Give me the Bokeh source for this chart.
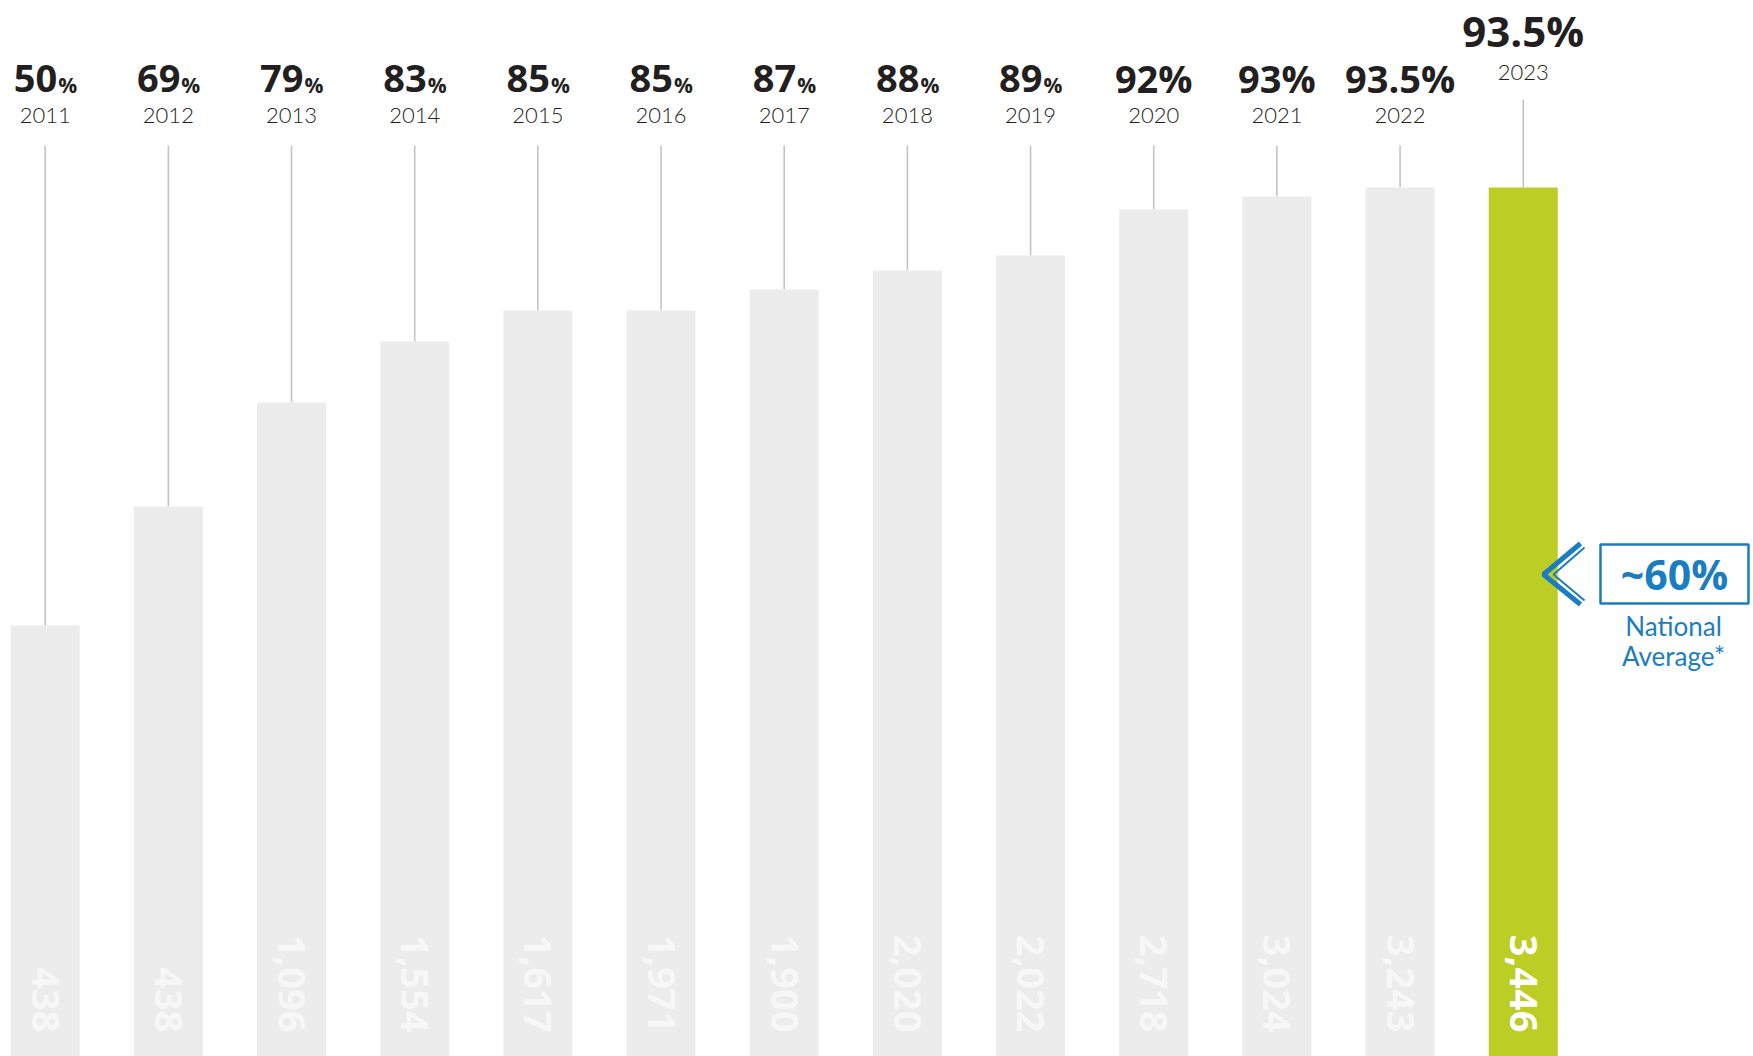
import math
from bokeh.plotting import figure
from bokeh.models import ColumnDataSource, Range1d
from bokeh.embed import file_html
from bokeh.resources import INLINE
from bokeh.core.properties import value

# ---------------- data ----------------
years = [2011, 2012, 2013, 2014, 2015, 2016, 2017, 2018, 2019, 2020, 2021, 2022, 2023]
pct_values = [50, 69, 79, 83, 85, 85, 87, 88, 89, 92, 93, 93.5, 93.5]
counts = [438, 438, 1096, 1554, 1617, 1971, 1900, 2020, 2022, 2718, 3024, 3243, 3446]
# visual bar heights as drawn in the picture (px above the bottom edge)
bar_heights = [431, 550, 654, 715, 746, 746, 767, 786, 801, 847, 860, 869, 869]
small_pct_years = [2011, 2012, 2013, 2014, 2015, 2016, 2017, 2018, 2019]
highlight_year = 2023
national_avg_label = "~60%"
national_avg_text = ["National", "Average*"]

# ---------------- styles ----------------
W, H = 1753, 1056
PX_PER_YEAR = 123.17
FIRST_CENTER_PX = 44.7
GREY = "#ececec"
GREEN = "#bccd26"
BLUE = "#1b7dc1"
DARK = "#231f20"
LINE = "#c4c4c4"
BASE_SHIFT = 0.37  # svg text sits this many em below its anchor

x_start = years[0] - FIRST_CENTER_PX / PX_PER_YEAR
x_end = x_start + W / PX_PER_YEAR


def sx(px):  # page pixel -> data x
    return x_start + px / PX_PER_YEAR


def sy(px):  # page pixel -> data y
    return H - px


def by(px, size):  # desired baseline pixel -> data y
    return sy(px - BASE_SHIFT * size)


p = figure(width=W, height=H, x_range=Range1d(x_start, x_end), y_range=Range1d(0, H),
           output_backend="svg", toolbar_location=None, min_border=0)
p.axis.visible = False
p.grid.visible = False
p.outline_line_color = None
p.background_fill_color = "white"
p.border_fill_color = "white"

colors = [GREEN if y == highlight_year else GREY for y in years]
line_tops = [sy(99) if y == highlight_year else sy(145) for y in years]

src = ColumnDataSource(dict(x=years, top=bar_heights, color=colors, lt=line_tops,
                            cnt=[f"{c:,}" for c in counts],
                            calpha=[1.0 if y == highlight_year else 0.6 for y in years]))

p.segment(x0="x", y0="lt", x1="x", y1="top", source=src, line_color=LINE, line_width=1.6)
p.vbar(x="x", top="top", bottom=0, width=69 / PX_PER_YEAR, fill_color="color",
       line_color=None, source=src)

# count labels inside bars (rotated)
p.text(x="x", y=sy(1032), text="cnt", source=src, angle=-math.pi / 2,
       text_align="right", text_baseline="middle", text_color="white", text_alpha="calpha",
       text_font=value("Open Sans"), text_font_style="bold", text_font_size="38px")


def fmt(v):
    return f"{v:g}"


sm = [(y, v) for y, v in zip(years, pct_values) if y in small_pct_years]
big = [(y, v) for y, v in zip(years, pct_values) if y not in small_pct_years and y != highlight_year]
hl = [(y, v) for y, v in zip(years, pct_values) if y == highlight_year]

src_sm = ColumnDataSource(dict(x=[a for a, _ in sm], t=[fmt(b) for _, b in sm], pc=["%"] * len(sm)))
p.text(x="x", y=by(92, 38), text="t", source=src_sm, x_offset=12, text_align="right",
       text_baseline="alphabetic", text_color=DARK, text_font=value("Open Sans"),
       text_font_style="bold", text_font_size="38px")
p.text(x="x", y=by(92, 21), text="pc", source=src_sm, x_offset=13, text_align="left",
       text_baseline="alphabetic", text_color=DARK, text_font=value("Open Sans"),
       text_font_style="bold", text_font_size="21px")

src_big = ColumnDataSource(dict(x=[a for a, _ in big], t=[fmt(b) + "%" for _, b in big]))
p.text(x="x", y=by(92, 38), text="t", source=src_big, text_align="center",
       text_baseline="alphabetic", text_color=DARK, text_font=value("Open Sans"),
       text_font_style="bold", text_font_size="38px")

src_hl = ColumnDataSource(dict(x=[a for a, _ in hl], t=[fmt(b) + "%" for _, b in hl]))
p.text(x="x", y=by(46, 42), text="t", source=src_hl, text_align="center",
       text_baseline="alphabetic", text_color=DARK, text_font=value("Open Sans"),
       text_font_style="bold", text_font_size="42px")

# year labels
src_y = ColumnDataSource(dict(x=years, t=[str(y) for y in years],
                              yy=[by(80, 22) if y == highlight_year else by(123, 22) for y in years]))
p.text(x="x", y="yy", text="t", source=src_y, text_align="center",
       text_baseline="alphabetic", text_color=DARK, text_font=value("Lato Light"),
       text_font_size="22px")

# national average annotation
p.multi_line(xs=[[sx(1580), sx(1543), sx(1580)]], ys=[[sy(543), sy(574), sy(604)]],
             line_color=BLUE, line_width=5)
p.multi_line(xs=[[sx(1584), sx(1553), sx(1584)]], ys=[[sy(547), sy(574), sy(600)]],
             line_color=BLUE, line_width=2)
p.quad(left=sx(1600), right=sx(1748), top=sy(544), bottom=sy(603), fill_color=None,
       line_color=BLUE, line_width=2.5)
p.text(x=[sx(1674)], y=[by(589, 41)], text=[national_avg_label], text_align="center",
       text_baseline="alphabetic", text_color=BLUE, text_font=value("Open Sans"),
       text_font_style="bold", text_font_size="41px")
p.text(x=[sx(1673), sx(1673)], y=[by(635, 26), by(665, 26)], text=national_avg_text,
       text_align="center", text_baseline="alphabetic", text_color=BLUE,
       text_font=value("Lato"), text_font_size="26px")

open("out.html", "w").write(file_html(p, INLINE))
